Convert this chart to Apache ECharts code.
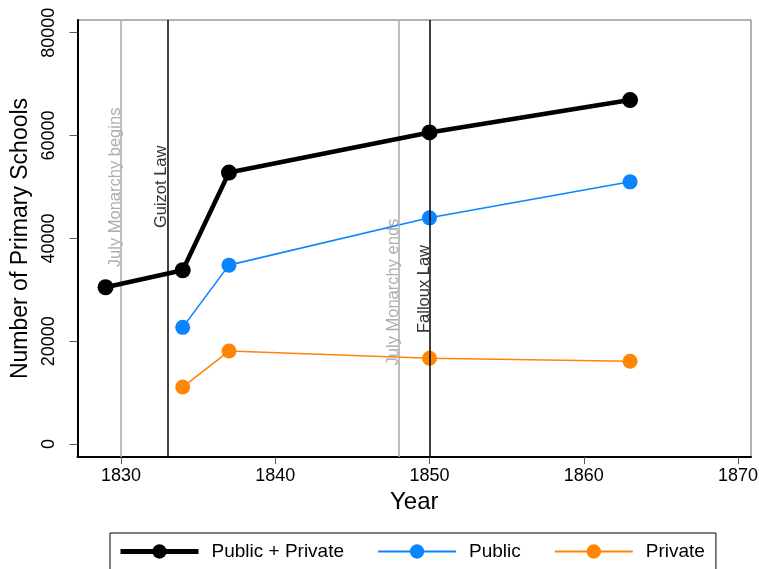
<!DOCTYPE html>
<html>
<head>
<meta charset="utf-8">
<script src="https://cdn.jsdelivr.net/npm/echarts@6/dist/echarts.min.js"></script>
<style>
  html, body { margin: 0; padding: 0; background: #fff; }
  #chart { width: 759px; height: 569px; }
</style>
</head>
<body>
<div id="chart"></div>
<script>
// data
var totalYears = [1829, 1834, 1837, 1850, 1863];
var totalSchools = [30500, 33800, 52800, 60600, 66900];
var splitYears = [1834, 1837, 1850, 1863];
var publicSchools = [22700, 34800, 44000, 51000];
var privateSchools = [11100, 18100, 16700, 16100];

var xTicks = [1830, 1840, 1850, 1860, 1870];
var yTicks = [0, 20000, 40000, 60000, 80000];

// vertical reference lines and their labels
var eventYears = [1830, 1833, 1848, 1850];
var eventLabels = ['July Monarchy begins', 'Guizot Law', 'July Monarchy ends', 'Falloux Law'];
var eventLabelY = [34400, 42000, 15300, 21600];
var eventColors = ['#aaaaaa', '#000000', '#aaaaaa', '#000000'];

var font = '"Liberation Sans", Arial, sans-serif';
var blue = '#0a85ff';
var orange = '#ff8505';

function pairs(xs, ys) {
  return xs.map(function (x, i) { return [x, ys[i]]; });
}

var chart = echarts.init(document.getElementById('chart'));

var option = {
  animation: false,
  backgroundColor: '#fff',
  textStyle: { fontFamily: font },
  grid: {
    left: 77.5, right: 8, top: 20, bottom: 112,
    outerBoundsMode: 'none',
    show: true, borderColor: '#666', borderWidth: 1
  },
  xAxis: {
    type: 'value',
    min: 1827.18, max: 1870.84,
    name: 'Year', nameLocation: 'middle', nameGap: 33,
    nameTextStyle: { fontSize: 24, color: '#000', fontFamily: font },
    axisLine: { show: true, onZero: false, lineStyle: { color: '#000', width: 2 } },
    axisTick: { show: true, length: 7, customValues: xTicks, lineStyle: { color: '#555' } },
    axisLabel: { customValues: xTicks, fontSize: 18, color: '#000', margin: 10,
      formatter: function (v) { return String(v); } },
    splitLine: { show: false }
  },
  yAxis: {
    type: 'value',
    min: -2510, max: 82470,
    name: 'Number of Primary Schools', nameLocation: 'middle', nameGap: 41,
    nameTextStyle: { fontSize: 23, color: '#000', fontFamily: font },
    axisLine: { show: true, onZero: false, lineStyle: { color: '#000', width: 2 } },
    axisTick: { show: true, length: 8, customValues: yTicks, lineStyle: { color: '#555' } },
    axisLabel: { customValues: yTicks, fontSize: 18, color: '#000', rotate: 90, margin: 19,
      formatter: function (v) { return String(v); } },
    splitLine: { show: false }
  },
  legend: {
    top: 533, left: 110,
    padding: [9, 11, 14, 8],
    borderColor: '#000', borderWidth: 1,
    itemWidth: 78, itemHeight: 18, itemGap: 33,
    textStyle: { fontSize: 19, color: '#000', fontFamily: font, padding: [0, 0, 0, 8] },
    data: [
      { name: 'Public + Private', lineStyle: { width: 5 } },
      { name: 'Public', lineStyle: { width: 2 } },
      { name: 'Private', lineStyle: { width: 2 } }
    ]
  },
  series: [
    {
      name: 'events',
      type: 'scatter',
      symbolSize: 0,
      silent: true,
      z: 1,
      data: eventYears.map(function (x, i) {
        return {
          value: [x, eventLabelY[i]],
          label: {
            show: true, formatter: eventLabels[i], rotate: 90,
            align: 'left', verticalAlign: 'bottom', position: [3, 0],
            fontSize: 16.5, fontFamily: font,
            color: eventColors[i] === '#000000' ? '#000' : '#999'
          }
        };
      }),
      markLine: {
        silent: true, symbol: 'none',
        label: { show: false },
        data: eventYears.map(function (x, i) {
          return { xAxis: x, lineStyle: { color: eventColors[i], width: 1.5, type: 'solid' } };
        })
      }
    },
    {
      name: 'Public + Private', type: 'line',
      data: pairs(totalYears, totalSchools),
      symbol: 'circle', symbolSize: 16,
      lineStyle: { color: '#000', width: 4.5 },
      itemStyle: { color: '#000' },
      z: 5
    },
    {
      name: 'Public', type: 'line',
      data: pairs(splitYears, publicSchools),
      symbol: 'circle', symbolSize: 15,
      lineStyle: { color: blue, width: 1.6 },
      itemStyle: { color: blue },
      z: 4
    },
    {
      name: 'Private', type: 'line',
      data: pairs(splitYears, privateSchools),
      symbol: 'circle', symbolSize: 15,
      lineStyle: { color: orange, width: 1.6 },
      itemStyle: { color: orange },
      z: 4
    }
  ]
};

chart.setOption(option);
</script>
</body>
</html>
